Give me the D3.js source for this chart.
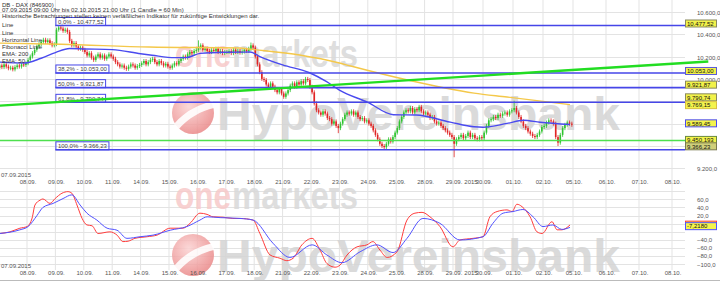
<!DOCTYPE html>
<html>
<head>
<meta charset="utf-8">
<script src="https://cdn.jsdelivr.net/npm/d3@7"></script>
<style>
body{margin:0;background:#fff;}
svg{display:block;font-family:"Liberation Sans",Arial,sans-serif;}
</style>
</head>
<body>
<svg id="chart" width="720" height="282"></svg>
<script>
/*
	DAX Stundenkerzen 07.09. - 02.10.2015 mit Fibonacci, EMA und Oszillator
*/

// Handelstage (Index = Tag auf der x-Achse)
var tage = ["07.09.","08.09.","09.09.","10.09.","11.09.","14.09.","15.09.","16.09.","17.09.","18.09.",
	"21.09.","22.09.","23.09.","24.09.","25.09.","28.09.","29.09.","30.09.","01.10.","02.10.",
	"05.10.","06.10.","07.10.","08.10."];

// Schlusskurse, 13 Stundenkerzen pro Tag (09:00 - 21:00)
var eroeffnung = 10100;
var kurse = [
	[10120,10105,10130,10110,10095,10100,10085,10105,10120,10110,10130,10125,10140],
	[10170,10200,10230,10260,10290,10310,10330,10350,10330,10345,10320,10300,10310],
	[10440,10460,10450,10430,10440,10420,10340,10300,10320,10290,10270,10280,10260],
	[10240,10210,10230,10190,10170,10200,10220,10190,10210,10180,10200,10220,10200],
	[10180,10150,10130,10110,10120,10100,10090,10110,10130,10120,10100,10115,10125],
	[10140,10160,10130,10150,10170,10180,10150,10130,10160,10140,10120,10135,10110],
	[10100,10120,10140,10130,10160,10180,10200,10190,10220,10240,10230,10250,10260],
	[10280,10300,10260,10270,10250,10240,10260,10250,10270,10240,10250,10230,10240],
	[10240,10250,10230,10260,10240,10250,10235,10245,10260,10250,10270,10300,10280],
	[10200,10130,10060,10000,9990,9950,9920,9960,9930,9900,9880,9910,9870],
	[9840,9870,9900,9940,9960,9930,9970,9950,9980,9960,10000,9990,9930],
	[9880,9780,9720,9700,9680,9710,9690,9650,9640,9600,9620,9580,9560],
	[9600,9640,9680,9700,9690,9710,9680,9700,9660,9640,9650,9620,9630],
	[9600,9580,9540,9500,9460,9420,9400,9390,9420,9460,9440,9480,9520],
	[9560,9620,9660,9700,9720,9710,9740,9700,9730,9720,9750,9710,9690],
	[9700,9680,9650,9660,9620,9600,9610,9580,9560,9540,9520,9500,9480],
	[9420,9460,9480,9500,9470,9490,9520,9480,9500,9470,9460,9480,9470],
	[9520,9580,9630,9640,9660,9650,9680,9670,9690,9700,9680,9710,9720],
	[9740,9700,9660,9620,9580,9560,9530,9510,9490,9480,9500,9530,9570],
	[9580,9610,9630,9620,9600,9480,9430,9500,9560,9590,9610,9600,9590]
];

// auffaellige Dochte [tag, stunde, kurs]
var dochte = [[2,1,10477.52],[7,0,10345],[8,11,10325],[11,12,9515],[13,7,9366.23],[16,0,9300],[18,0,9805],[19,6,9400]];

// EMA [tag, wert]
var ema50 = [[0.05,10150],[0.9,10142],[1.5,10185],[2.0,10235],[2.5,10272],[3.0,10268],[4.0,10262],[5.0,10225],
	[5.4,10212],[6.2,10190],[6.6,10190],[7.1,10228],[8.0,10238],[8.85,10240],[9.2,10200],[10.0,10125],
	[10.95,10055],[11.55,9975],[12.0,9900],[13.0,9790],[13.9,9680],[14.7,9677],[15.9,9614],[16.7,9572],
	[17.0,9568],[17.8,9602],[18.35,9630],[18.9,9612],[19.9,9592]];
var ema200 = [[0.05,10320],[2.2,10310],[5.3,10285],[8.5,10276],[8.85,10266],[10.6,10214],[12.0,10142],
	[12.4,10115],[14.4,9990],[16.7,9873],[17.8,9838],[19.9,9770]];

// Fibonacci ab Hoch 09.09.
var fibProzent = ["0,0%","38,2%","50,0%","61,8%","100,0%"];
var fibWerte = [10477.52,10053.00,9921.87,9790.74,9366.23];
var horizontal = 9450.193;
var trendlinie = [[0,9760],[24.1,10155]];

// Oszillator [tag, wert]
var oszRot = [[0.05,-24],[0.4,-20],[0.75,-11],[1.0,-7],[1.18,14],[1.28,46],[1.46,58],[1.56,61],[1.81,50],[1.99,62],
	[2.23,75],[2.44,79],[2.58,75],[2.76,46],[2.94,13],[3.11,-3],[3.29,-5],[3.5,-24],[3.92,-20],[4.17,-28],
	[4.38,-44],[4.56,-43],[4.8,-36],[5.23,-32],[5.58,-28],[6.04,-11],[6.49,-11],[6.74,1],[7.09,26],[7.34,23],
	[7.55,17],[7.9,16],[8.25,13],[8.5,13],[8.96,9],[9.2,-24],[9.56,-77],[9.91,-85],[10.15,-91],[10.37,-85],
	[10.68,-52],[11.04,-36],[11.32,-65],[11.56,-98],[11.85,-107],[12.02,-102],[12.27,-77],[12.62,-57],[12.97,-52],
	[13.18,-44],[13.43,-65],[13.68,-83],[14.03,-69],[14.38,9],[14.66,26],[14.91,28],[15.19,17],[15.54,-7],
	[16.0,-57],[16.23,-40],[16.67,-36],[17.0,-32],[17.23,17],[17.47,30],[17.8,34],[17.97,30],[18.13,48],
	[18.3,42],[18.57,17],[18.8,-20],[18.97,-24],[19.3,5],[19.47,-15],[19.63,-15],[19.9,-3]];
var oszBlau = [[0.05,-24],[0.75,-15],[1.04,-7],[1.35,20],[1.56,40],[1.92,50],[2.27,62],[2.58,71],[2.87,46],
	[3.11,26],[3.46,9],[3.82,-11],[4.17,-16],[4.52,-36],[4.98,-32],[5.44,-28],[6.04,-16],[6.63,-7],[7.09,9],
	[7.34,17],[7.8,15],[8.5,13],[8.96,9],[9.66,-48],[10.26,-83],[11.04,-52],[11.56,-77],[12.09,-96],[12.73,-69],
	[13.32,-52],[13.89,-71],[14.38,-36],[14.94,13],[15.54,1],[16.23,-40],[17.0,-32],[17.33,1],[17.67,26],
	[18.0,30],[18.33,35],[18.67,17],[19.0,-7],[19.33,-3],[19.63,-14],[19.9,-9]];
var oszLetzter = -7.2180;

// Achsen
var kursTicks = [9200,9400,9600,9800,10000,10200,10400,10600];
var kursLabels = [10600,10400,10200,10000,9200];
var oszTicks = [-100,-80,-60,-40,-20,0,20,40,60,80];
var oszLabels = [60,40,20,-40,-60,-80,-100];

var kopf = ["DB - DAX (846900)",
	"07.09.2015 09:00 Uhr bis 02.10.2015 21:00 Uhr (1 Candle = 60 Min)",
	"Historische Betrachtungen stellen keinen verläßlichen Indikator für zukünftige Entwicklungen dar."];
var legende = ["Line","Line","Horizontal Line","Fibonacci Linie","EMA: 200","EMA: 50"];

var de = d3.formatLocale({decimal:",", thousands:".", grouping:[3], currency:["","€"]});
var svg = d3.select('#chart');
var rechts = 685;
var x = d3.scaleLinear().domain([0,1,16,20,23]).range([-1.4,27,453,573,672]);
var yK = d3.scaleLinear().domain([9150,10700]).range([174,0.6]);
var yO = d3.scaleLinear().domain([-110,85]).range([268.4,189.2]);

function init(){
	svg.append("rect").attr("width",720).attr("height",282).attr("fill","#fff");
	var defs = svg.append("defs");
	defs.append("clipPath").attr("id","clipO").append("rect").attr("x",0).attr("y",0).attr("width",rechts).attr("height",173);
	defs.append("clipPath").attr("id","clipU").append("rect").attr("x",0).attr("y",188).attr("width",rechts).attr("height",92);
	var gr = defs.append("radialGradient").attr("id","kugel").attr("cx","40%").attr("cy","35%").attr("r","65%");
	gr.append("stop").attr("offset","0%").attr("stop-color","#fbd2d2");
	gr.append("stop").attr("offset","100%").attr("stop-color","#eb8a8a");

	raster();
	wasserzeichen(0, "clipO");
	wasserzeichen(142, "clipU");
	kerzen();
	linien();
	oszillator();
	achsen();
	kasten();
	texte();
}

function raster(){
	var g = svg.append("g").attr("stroke","#e3e3e3").attr("stroke-width",1);
	for (var d = 1; d < tage.length; d++) {
		g.append("line").attr("x1",x(d)).attr("x2",x(d)).attr("y1",0).attr("y2",270);
	}
	kursTicks.forEach(function(v){
		g.append("line").attr("x1",0).attr("x2",rechts).attr("y1",Math.round(yK(v))+0.5).attr("y2",Math.round(yK(v))+0.5);
	});
	oszTicks.forEach(function(v){
		g.append("line").attr("x1",0).attr("x2",rechts).attr("y1",Math.round(yO(v))+0.5).attr("y2",Math.round(yO(v))+0.5);
	});
}

function wasserzeichen(dy, clip){
	var g = svg.append("g").attr("clip-path","url(#"+clip+")").attr("opacity",0.85);
	g.append("text").attr("x",175).attr("y",67+dy).attr("font-size",38).attr("font-weight","bold")
		.attr("fill","#f7c9c9").attr("textLength",56).attr("lengthAdjust","spacingAndGlyphs").text("one");
	g.append("text").attr("x",232).attr("y",67+dy).attr("font-size",38).attr("font-weight","bold")
		.attr("fill","#d9d9d9").attr("textLength",126).attr("lengthAdjust","spacingAndGlyphs").text("markets");
	g.append("circle").attr("cx",193).attr("cy",113+dy).attr("r",21).attr("fill","url(#kugel)");
	g.append("path")
		.attr("d","M174,"+(124+dy)+" C186,"+(110+dy)+" 200,"+(104+dy)+" 213,"+(101+dy)+" L214,"+(108+dy)+" C201,"+(111+dy)+" 188,"+(118+dy)+" 178,"+(130+dy)+" Z")
		.attr("fill","#fff").attr("opacity",0.9);
	g.append("text").attr("x",217).attr("y",130+dy).attr("font-size",46).attr("font-weight","bold")
		.attr("fill","#d4d4d4").attr("textLength",403).attr("lengthAdjust","spacingAndGlyphs").text("HypoVereinsbank");
}

function kerzen(){
	var g = svg.append("g").attr("clip-path","url(#clipO)");
	var vor = eroeffnung;
	kurse.forEach(function(tag, d){
		tag.forEach(function(c, h){
			var o = vor;
			vor = c;
			var t = d + (h+0.5)/13;
			var xm = x(t);
			var farbe = c >= o ? "#2fc42f" : "#e02424";
			var oben = yK(Math.max(o,c)), unten = yK(Math.min(o,c));
			var dOben = oben - 2, dUnten = unten + 2;
			dochte.forEach(function(w){
				if (w[0] == d && w[1] == h) {
					if (yK(w[2]) < oben) dOben = yK(w[2]);
					else dUnten = yK(w[2]);
				}
			});
			g.append("line").attr("x1",xm).attr("x2",xm).attr("y1",dOben).attr("y2",dUnten)
				.attr("stroke",farbe).attr("stroke-width",0.8);
			g.append("rect").attr("x",xm-0.8).attr("y",oben).attr("width",1.6)
				.attr("height",Math.max(1,unten-oben)).attr("fill",farbe);
		});
	});
}

function linien(){
	var g = svg.append("g");
	var linie = d3.line().x(function(d){return x(d[0]);}).y(function(d){return yK(d[1]);}).curve(d3.curveMonotoneX);
	g.append("path").attr("d",linie(ema200)).attr("fill","none").attr("stroke","#f4c84a").attr("stroke-width",1.4);
	g.append("path").attr("d",linie(ema50)).attr("fill","none").attr("stroke","#4a4aef").attr("stroke-width",1.4);

	// horizontale Linie
	g.append("line").attr("x1",0).attr("x2",rechts).attr("y1",yK(horizontal)).attr("y2",yK(horizontal))
		.attr("stroke","#4ee04e").attr("stroke-width",1.5);
	// Fibonacci
	fibWerte.forEach(function(v, i){
		g.append("line").attr("x1",x(2)).attr("x2",rechts).attr("y1",yK(v)).attr("y2",yK(v))
			.attr("stroke","#4646e8").attr("stroke-width",1.6);
		var t = g.append("text").attr("x",x(2)+2.5).attr("y",yK(v)-1.8).attr("font-size",6).attr("fill","#444")
			.text(fibProzent[i]+" - "+de.format(",.2f")(v));
		var w = t.node().getComputedTextLength();
		g.insert("rect","text").attr("x",x(2)+0.5).attr("y",yK(v)-8).attr("width",w+4).attr("height",8)
			.attr("fill","none").attr("stroke","#4646e8").attr("stroke-width",1);
	});
	// Trendlinie
	g.append("line").attr("x1",x(trendlinie[0][0])).attr("y1",yK(trendlinie[0][1]))
		.attr("x2",x(trendlinie[1][0])).attr("y2",yK(trendlinie[1][1]))
		.attr("stroke","#22dd22").attr("stroke-width",2.4);
}

function oszillator(){
	var g = svg.append("g").attr("clip-path","url(#clipU)");
	var linie = d3.line().x(function(d){return x(d[0]);}).y(function(d){return yO(d[1]);}).curve(d3.curveMonotoneX);
	g.append("path").attr("d",linie(oszRot)).attr("fill","none").attr("stroke","#ff3b3b").attr("stroke-width",1);
	g.append("path").attr("d",linie(oszBlau)).attr("fill","none").attr("stroke","#5252ff").attr("stroke-width",1);
}

function achsen(){
	var g = svg.append("g").attr("font-size",6).attr("fill","#555");
	var reihen = [184, 274.5];
	reihen.forEach(function(yy){
		for (var d = 1; d < tage.length; d++) {
			g.append("text").attr("x",x(d)+1).attr("y",yy).attr("text-anchor","middle").text(tage[d]);
		}
		g.append("text").attr("x",x(16.6)).attr("y",yy).attr("text-anchor","middle").text("2015");
		g.append("text").attr("x",1).attr("y",yy-7).text("07.09.2015");
	});
	kursLabels.forEach(function(v){
		g.append("text").attr("x",697).attr("y",yK(v)+3).text(de.format(",.1f")(v));
	});
	oszLabels.forEach(function(v){
		g.append("text").attr("x",697).attr("y",yO(v)+2.2).text(de.format(",.1f")(v));
	});
}

function box(yc, txt, rand, fuell){
	var g = svg.append("g");
	g.append("rect").attr("x",685.5).attr("y",yc-3.5).attr("width",31).attr("height",7)
		.attr("fill",fuell).attr("stroke",rand).attr("stroke-width",1);
	g.append("text").attr("x",687).attr("y",yc+2.2).attr("font-size",6).attr("fill","#111").text(txt);
}

function kasten(){
	var f2 = de.format(",.2f");
	box(yK(fibWerte[0])-2, f2(fibWerte[0]), "#8a8a60", "#f2f24a");
	box(yK(fibWerte[1])-2, f2(fibWerte[1]), "#5a5ad8", "#f2f24a");
	box(yK(fibWerte[2])-3, f2(fibWerte[2]), "#8a8a60", "#f2f24a");
	box(yK(fibWerte[3])-5, f2(fibWerte[3]), "#8a8a60", "#f2f24a");
	box(yK(ema200[ema200.length-1][1])+0.5, "9.769,15", "#d8c040", "#f4f44c");
	box(yK(9589.45)-1.5, "9.589,45", "#4a4aef", "#f4f44c");
	box(yK(horizontal)-0.5, de.format(",.3f")(horizontal), "#6a8a40", "#f2f24a");
	box(yK(fibWerte[4])-3.5, f2(fibWerte[4]), "#7a7a50", "#cfcf7a");
	box(yO(oszLetzter)-2, "", "#ff3b3b", "#f4f44c");
	box(yO(oszLetzter)-0.5, de.format(",.4f")(oszLetzter).replace("−","-"), "#5252ff", "#f4f44c");
}

function texte(){
	var g = svg.append("g").attr("font-size",6).attr("fill","#333");
	kopf.forEach(function(t, i){
		g.append("text").attr("x",2).attr("y",6.5+i*5.6).text(t);
	});
	legende.forEach(function(t, i){
		g.append("text").attr("x",2).attr("y",27.3+i*7.2).text(t);
	});
	svg.append("line").attr("x1",0).attr("x2",720).attr("y1",280.5).attr("y2",280.5).attr("stroke","#bbb");
}

init();
</script>
</body>
</html>
